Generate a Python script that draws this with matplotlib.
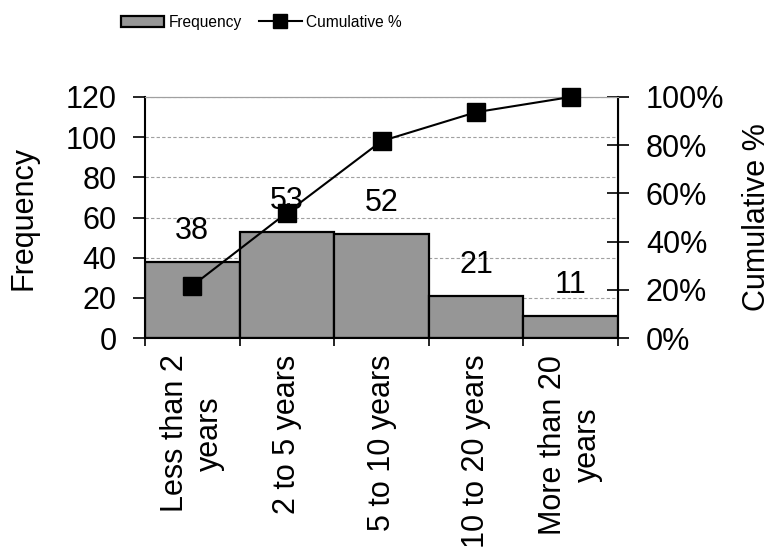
import numpy as np
import matplotlib.pyplot as plt

plt.rcParams['font.family'] = ['Liberation Sans', 'DejaVu Sans']

# Datos
categorias = ["Less than 2\nyears", "2 to 5 years", "5 to 10 years",
              "10 to 20 years", "More than 20\nyears"]
frecuencia = [38, 53, 52, 21, 11]
acumulado_pct = [21.7, 52.0, 81.7, 93.7, 100.0]

FS = 22
x = np.arange(len(categorias))

fig = plt.figure(figsize=(7.73, 5.59), dpi=100)
ax = fig.add_axes([0.1876, 0.3953, 0.612, 0.4312])
ax2 = ax.twinx()

barras = ax.bar(x, frecuencia, width=1.0, color="#969696", edgecolor="black",
                linewidth=1.6, label="Frequency", zorder=2)
linea, = ax2.plot(x, acumulado_pct, color="black", linewidth=1.5, marker="s",
                  markersize=13, label="Cumulative %", zorder=3, clip_on=False)

for xi, v in zip(x, frecuencia):
    ax.annotate(str(v), (xi, v), xytext=(0, 22), textcoords="offset points",
                ha="center", va="center", fontsize=FS)

ax.set_xlim(-0.5, len(categorias) - 0.5)
ax.set_ylim(0, 120)
ax.set_yticks(np.arange(0, 121, 20))
ax2.set_ylim(0, 100)
ax2.set_yticks(np.arange(0, 101, 20))
ax2.set_yticklabels([f"{v}%" for v in range(0, 101, 20)])

ax.yaxis.grid(True, linestyle=(0, (3, 2)), color="#a0a0a0", linewidth=0.8, zorder=0)
ax.set_axisbelow(True)

# ticks del eje x en los bordes, etiquetas en el centro
ax.set_xticks(np.arange(-0.5, len(categorias), 1.0))
ax.set_xticklabels([])
ax.set_xticks(x, minor=True)
ax.set_xticklabels(categorias, minor=True, rotation=90, ha="center", va="top",
                   multialignment="center", fontsize=FS)
ax.tick_params(axis="x", which="major", direction="out", length=6, width=1.2)
ax.tick_params(axis="x", which="minor", length=0, pad=12)
ax.tick_params(axis="y", direction="out", length=8.5, width=1.2, labelsize=FS, pad=12)
ax2.tick_params(axis="y", direction="inout", length=16, width=1.2, labelsize=FS, pad=12)

for lado in ["left", "bottom"]:
    ax.spines[lado].set_linewidth(1.5)
ax2.spines["right"].set_linewidth(1.5)
ax.spines["top"].set_color("#a0a0a0")
ax2.spines["top"].set_color("#a0a0a0")
ax2.spines["left"].set_visible(False)
ax2.spines["bottom"].set_visible(False)

ax.set_ylabel("Frequency", fontsize=FS)
ax.yaxis.set_label_coords(-0.226, 0.5)
ax2.set_ylabel("Cumulative %", fontsize=FS)
ax2.yaxis.set_label_coords(1.262, 0.5)

fig.legend([barras, linea], ["Frequency", "Cumulative %"], loc="center",
           bbox_to_anchor=(0.338, 0.9606), ncol=2, frameon=False,
           fontsize=11.2, handlelength=2.77, columnspacing=1.1,
           handletextpad=0.26, markerscale=0.75)

plt.savefig("out.png", dpi=100)
